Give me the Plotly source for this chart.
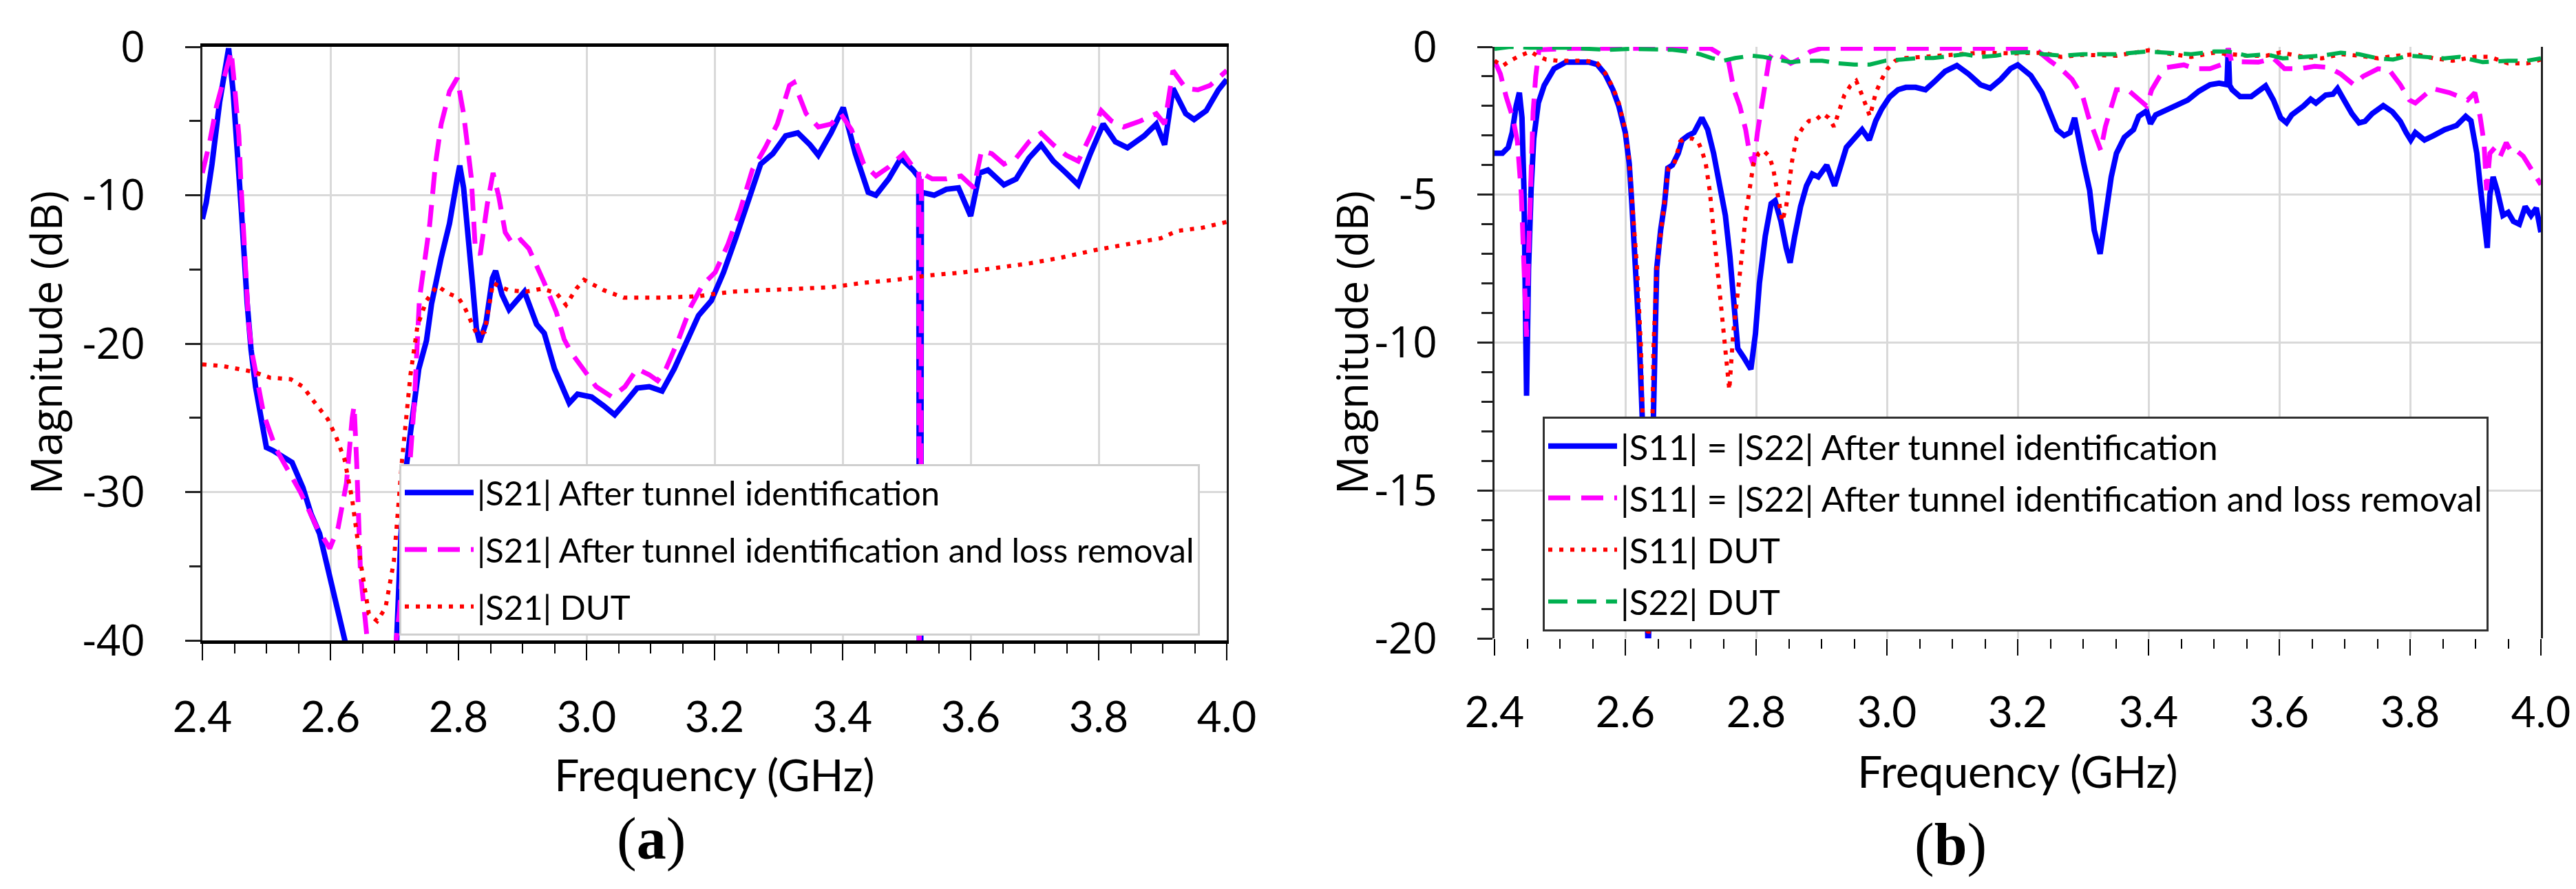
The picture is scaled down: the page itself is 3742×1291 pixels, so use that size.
import plotly.graph_objects as go

W, H = 3742, 1291

# ---------------- (a) |S21| ----------------
s21_tunnel_f = [2.400, 2.406, 2.415, 2.427, 2.436, 2.441, 2.448, 2.454, 2.461, 2.470, 2.476, 2.483,
                2.492, 2.500, 2.510, 2.520, 2.530, 2.540, 2.557, 2.570, 2.583, 2.602, 2.615, 2.628,
                2.650, 2.690, 2.703, 2.710, 2.718, 2.725, 2.738, 2.750, 2.758, 2.773, 2.786, 2.798,
                2.802, 2.808, 2.815, 2.822, 2.828, 2.833, 2.843, 2.853, 2.858, 2.868, 2.879, 2.892,
                2.903, 2.922, 2.934, 2.950, 2.973, 2.986, 3.008, 3.027, 3.044, 3.060, 3.079, 3.098,
                3.118, 3.137, 3.156, 3.175, 3.195, 3.214, 3.233, 3.253, 3.272, 3.291, 3.311, 3.330,
                3.349, 3.362, 3.382, 3.401, 3.420, 3.440, 3.452, 3.472, 3.491, 3.510, 3.519, 3.520,
                3.522, 3.523, 3.543, 3.562, 3.581, 3.600, 3.614, 3.627, 3.652, 3.671, 3.691, 3.710,
                3.729, 3.749, 3.768, 3.787, 3.807, 3.826, 3.845, 3.871, 3.890, 3.903, 3.916, 3.936,
                3.949, 3.968, 3.987, 4.000]
s21_tunnel_db = [-11.6, -10.5, -7.9, -3.7, -1.4, -0.1, -3.0, -6.5, -11.1, -17.3, -20.4, -22.9,
                 -25.0, -27.0, -27.2, -27.5, -27.8, -28.0, -29.7, -31.5, -32.8, -36.2, -38.2, -40.5,
                 -45.0, -45.0, -40.5, -33.0, -28.5, -26.0, -21.7, -19.8, -17.3, -14.2, -11.9, -8.9,
                 -8.0, -9.5, -12.5, -16.0, -19.0, -19.9, -18.6, -15.6, -15.1, -16.7, -17.7, -17.0,
                 -16.5, -18.7, -19.3, -21.7, -24.0, -23.4, -23.6, -24.2, -24.8, -24.0, -23.0, -22.9,
                 -23.2, -21.7, -19.8, -18.1, -17.1, -15.2, -12.9, -10.2, -7.9, -7.2, -6.0, -5.8,
                 -6.6, -7.3, -5.8, -4.1, -7.2, -9.8, -10.0, -8.9, -7.5, -8.3, -8.8, -45.0,
                 -45.0, -9.8, -10.0, -9.6, -9.5, -11.4, -8.5, -8.3, -9.3, -8.9, -7.5, -6.6,
                 -7.7, -8.5, -9.3, -7.2, -5.2, -6.4, -6.8, -6.0, -5.2, -6.6, -2.8, -4.5,
                 -4.9, -4.3, -2.9, -2.2]

s21_lossfree_f = [2.400, 2.411, 2.422, 2.438, 2.445, 2.450, 2.457, 2.460, 2.465, 2.472, 2.477, 2.485,
                  2.496, 2.515, 2.534, 2.553, 2.579, 2.599, 2.612, 2.625, 2.634, 2.637, 2.641, 2.647,
                  2.660, 2.680, 2.700, 2.708, 2.718, 2.731, 2.739, 2.755, 2.764, 2.773, 2.786, 2.798,
                  2.808, 2.820, 2.826, 2.834, 2.845, 2.854, 2.863, 2.873, 2.885, 2.897, 2.910, 2.922,
                  2.934, 2.953, 2.965, 2.976, 2.995, 3.015, 3.040, 3.060, 3.079, 3.098, 3.111, 3.124,
                  3.143, 3.163, 3.182, 3.201, 3.221, 3.240, 3.259, 3.279, 3.298, 3.317, 3.324, 3.343,
                  3.362, 3.382, 3.397, 3.414, 3.433, 3.452, 3.472, 3.495, 3.510, 3.519, 3.520, 3.522,
                  3.523, 3.540, 3.562, 3.585, 3.605, 3.617, 3.633, 3.652, 3.671, 3.691, 3.710, 3.729,
                  3.749, 3.768, 3.787, 3.804, 3.820, 3.839, 3.865, 3.890, 3.903, 3.916, 3.936, 3.955,
                  3.974, 4.000]
s21_lossfree_db = [-8.5, -6.5, -4.0, -1.2, -0.3, -2.5, -6.0, -9.0, -13.0, -18.5, -20.5, -22.5,
                   -24.8, -27.1, -28.6, -30.0, -32.4, -33.8, -32.4, -29.4, -25.0, -24.2, -28.0, -35.5,
                   -41.0, -45.0, -41.0, -38.0, -31.7, -24.0, -17.0, -12.0, -7.9, -5.2, -3.0, -2.1,
                   -4.5, -8.8, -13.4, -14.0, -10.6, -8.5, -10.1, -12.5, -13.3, -13.0, -13.6, -14.7,
                   -15.9, -17.9, -19.7, -20.6, -21.7, -22.9, -23.6, -22.9, -21.7, -22.1, -22.5, -21.7,
                   -19.8, -17.5, -16.0, -15.2, -13.3, -11.0, -8.3, -6.8, -5.2, -2.6, -2.4, -4.5,
                   -5.4, -5.2, -4.5, -5.6, -7.9, -8.7, -8.1, -7.2, -8.1, -8.3, -45.0, -45.0,
                   -8.5, -8.9, -8.9, -8.7, -9.5, -7.0, -7.2, -7.9, -7.5, -6.4, -5.8, -6.6,
                   -7.3, -7.7, -6.0, -4.3, -5.0, -5.4, -5.0, -4.5, -5.2, -1.6, -2.8, -2.9,
                   -2.6, -1.6]

s21_dut_f = [2.400, 2.430, 2.480, 2.506, 2.538, 2.557, 2.576, 2.596, 2.609, 2.622, 2.634, 2.647,
             2.660, 2.673, 2.686, 2.699, 2.712, 2.725, 2.736, 2.750, 2.767, 2.783, 2.800, 2.810,
             2.829, 2.841, 2.854, 2.866, 2.879, 2.905, 2.931, 2.953, 2.968, 2.984, 2.996, 3.010,
             3.027, 3.058, 3.085, 3.124, 3.175, 3.227, 3.279, 3.330, 3.382, 3.433, 3.484, 3.536,
             3.588, 3.639, 3.691, 3.742, 3.794, 3.845, 3.897, 3.923, 3.961, 4.000]
s21_dut_db = [-21.4, -21.5, -21.9, -22.3, -22.4, -22.9, -24.0, -25.1, -26.3, -27.8, -30.5, -34.7,
              -38.2, -38.7, -37.8, -34.7, -27.8, -22.1, -18.8, -17.1, -16.1, -16.6, -16.9, -17.6,
              -19.4, -19.2, -15.9, -16.2, -16.4, -16.5, -16.3, -16.6, -17.4, -16.3, -15.7, -16.0,
              -16.4, -16.9, -16.9, -16.9, -16.8, -16.5, -16.4, -16.3, -16.2, -15.9, -15.7, -15.4,
              -15.2, -14.9, -14.6, -14.2, -13.7, -13.3, -12.9, -12.4, -12.2, -11.8]

# ---------------- (b) |S11| = |S22| ----------------
s11_tunnel_f = [2.400, 2.412, 2.421, 2.427, 2.433, 2.438, 2.442, 2.445, 2.449, 2.452, 2.456, 2.460,
                2.467, 2.476, 2.491, 2.509, 2.527, 2.545, 2.557, 2.569, 2.581, 2.590, 2.600, 2.606,
                2.610, 2.615, 2.621, 2.626, 2.631, 2.635, 2.639, 2.642, 2.645, 2.648, 2.654, 2.660,
                2.665, 2.672, 2.681, 2.687, 2.696, 2.705, 2.717, 2.726, 2.735, 2.744, 2.753, 2.760,
                2.766, 2.772, 2.781, 2.792, 2.799, 2.805, 2.814, 2.823, 2.829, 2.838, 2.846, 2.852,
                2.859, 2.868, 2.877, 2.886, 2.895, 2.908, 2.920, 2.929, 2.938, 2.950, 2.962, 2.973,
                2.983, 2.992, 3.004, 3.017, 3.029, 3.044, 3.059, 3.074, 3.089, 3.107, 3.125, 3.143,
                3.158, 3.174, 3.189, 3.200, 3.220, 3.237, 3.249, 3.260, 3.271, 3.280, 3.287, 3.294,
                3.301, 3.310, 3.317, 3.326, 3.333, 3.343, 3.351, 3.363, 3.377, 3.385, 3.397, 3.403,
                3.411, 3.425, 3.443, 3.460, 3.477, 3.494, 3.508, 3.520, 3.522, 3.524, 3.528, 3.540,
                3.557, 3.571, 3.579, 3.591, 3.602, 3.611, 3.619, 3.637, 3.648, 3.656, 3.671, 3.682,
                3.689, 3.699, 3.711, 3.722, 3.731, 3.742, 3.759, 3.773, 3.785, 3.794, 3.801, 3.808,
                3.822, 3.836, 3.853, 3.871, 3.885, 3.893, 3.902, 3.907, 3.913, 3.918, 3.922, 3.927,
                3.933, 3.942, 3.950, 3.958, 3.967, 3.976, 3.985, 3.993, 4.000]
s11_tunnel_db = [-3.6, -3.6, -3.4, -2.9, -2.0, -1.55, -2.4, -4.8, -11.8, -7.5, -4.8, -3.1,
                 -1.9, -1.3, -0.74, -0.52, -0.52, -0.52, -0.6, -0.92, -1.45, -2.0, -2.9, -3.95,
                 -5.3, -7.1, -9.7, -12.6, -16.5, -20.5, -16.5, -12.6, -10.2, -7.5, -6.2, -5.3,
                 -4.1, -4.0, -3.6, -3.15, -3.0, -2.9, -2.4, -2.8, -3.6, -4.7, -5.7, -7.1,
                 -8.85, -10.2, -10.5, -10.9, -9.7, -8.0, -6.4, -5.3, -5.2, -5.9, -6.8, -7.3,
                 -6.4, -5.4, -4.7, -4.3, -4.4, -4.0, -4.7, -4.0, -3.4, -3.1, -2.8, -3.15,
                 -2.5, -2.1, -1.7, -1.45, -1.37, -1.37, -1.45, -1.15, -0.83, -0.63, -0.92, -1.28,
                 -1.4, -1.1, -0.74, -0.61, -0.97, -1.55, -2.17, -2.8, -3.0, -2.9, -2.4, -3.24,
                 -3.95, -4.85, -6.2, -7.0, -5.9, -4.4, -3.6, -3.06, -2.8, -2.35, -2.17, -2.6,
                 -2.3, -2.17, -1.99, -1.8, -1.5, -1.28, -1.23, -1.28, -0.05, -1.3, -1.45, -1.68,
                 -1.68, -1.45, -1.32, -1.8, -2.4, -2.57, -2.3, -2.0, -1.77, -1.9, -1.63, -1.6,
                 -1.41, -1.8, -2.26, -2.57, -2.52, -2.26, -1.99, -2.2, -2.52, -2.9, -3.15, -2.9,
                 -3.15, -3.0, -2.8, -2.66, -2.35, -2.5, -3.6, -4.66, -5.7, -6.8, -5.0, -4.4,
                 -4.85, -5.7, -5.6, -5.9, -6.0, -5.4, -5.7, -5.45, -6.27]

s11_lossfree_f = [2.400, 2.409, 2.418, 2.428, 2.435, 2.441, 2.446, 2.449, 2.452, 2.455, 2.459, 2.463,
                  2.468, 2.520, 2.600, 2.700, 2.730, 2.757, 2.766, 2.775, 2.784, 2.790, 2.796, 2.802,
                  2.808, 2.814, 2.820, 2.826, 2.840, 2.853, 2.868, 2.883, 2.900, 3.000, 3.100, 3.226,
                  3.249, 3.266, 3.283, 3.300, 3.308, 3.317, 3.327, 3.334, 3.343, 3.351, 3.368, 3.385,
                  3.397, 3.405, 3.417, 3.428, 3.454, 3.471, 3.494, 3.517, 3.522, 3.527, 3.545, 3.568,
                  3.591, 3.608, 3.631, 3.654, 3.676, 3.694, 3.714, 3.728, 3.751, 3.768, 3.785, 3.799,
                  3.808, 3.822, 3.834, 3.860, 3.888, 3.899, 3.907, 3.913, 3.917, 3.922, 3.930, 3.938,
                  3.947, 3.956, 3.965, 3.973, 3.981, 3.990, 4.000]
s11_lossfree_db = [-0.47, -0.92, -1.7, -2.4, -3.2, -5.0, -8.0, -9.8, -7.0, -4.5, -2.2, -1.0,
                   -0.1, -0.05, -0.05, -0.05, -0.05, -0.4, -1.45, -2.0, -2.8, -3.6, -4.0, -2.9,
                   -2.0, -1.1, -0.4, -0.2, -0.35, -0.56, -0.4, -0.16, -0.05, -0.05, -0.05, -0.05,
                   -0.47, -0.74, -1.1, -1.72, -2.35, -2.9, -3.5, -2.7, -2.0, -1.45, -1.45, -1.8,
                   -2.0, -1.45, -1.0, -0.7, -0.61, -0.74, -0.74, -0.56, -0.05, -0.5, -0.52, -0.52,
                   -0.39, -0.74, -0.74, -0.66, -0.7, -0.92, -1.28, -1.0, -0.74, -0.78, -1.28, -1.8,
                   -1.9, -1.63, -1.41, -1.55, -1.8, -1.55, -2.35, -3.24, -4.85, -3.6, -3.4, -3.7,
                   -3.24, -3.6, -3.55, -3.7, -3.95, -4.3, -4.66]

s11_dut_f = [2.400, 2.412, 2.424, 2.439, 2.455, 2.465, 2.479, 2.497, 2.515, 2.539, 2.557, 2.569,
             2.581, 2.590, 2.600, 2.606, 2.612, 2.618, 2.624, 2.630, 2.635, 2.640, 2.643, 2.648,
             2.654, 2.660, 2.666, 2.675, 2.684, 2.693, 2.702, 2.711, 2.717, 2.723, 2.729, 2.735,
             2.741, 2.747, 2.753, 2.759, 2.765, 2.772, 2.778, 2.784, 2.790, 2.796, 2.804, 2.811,
             2.820, 2.826, 2.832, 2.840, 2.846, 2.850, 2.855, 2.862, 2.871, 2.881, 2.890, 2.902,
             2.911, 2.919, 2.926, 2.935, 2.944, 2.953, 2.962, 2.968, 2.974, 2.983, 2.992, 3.001,
             3.013, 3.029, 3.059, 3.095, 3.143, 3.191, 3.240, 3.266, 3.300, 3.351, 3.400, 3.437,
             3.465, 3.500, 3.551, 3.580, 3.602, 3.637, 3.665, 3.694, 3.722, 3.751, 3.779, 3.808,
             3.836, 3.865, 3.899, 3.922, 3.950, 3.979, 4.000]
s11_dut_db = [-0.47, -0.65, -0.47, -0.3, -0.16, -0.3, -0.43, -0.47, -0.47, -0.47, -0.55, -0.88,
              -1.37, -1.9, -2.8, -3.86, -5.7, -7.5, -10.2, -15.0, -20.5, -15.0, -10.2, -7.5,
              -6.4, -5.4, -4.1, -3.95, -3.2, -3.1, -3.1, -3.2, -3.5, -3.95, -4.85, -6.2,
              -7.5, -8.85, -10.2, -11.6, -9.7, -8.4, -7.1, -5.7, -4.85, -3.95, -3.6, -3.5,
              -3.7, -4.1, -4.85, -5.9, -5.4, -4.7, -3.86, -3.06, -2.75, -2.5, -2.5, -2.26,
              -2.4, -2.7, -2.2, -1.63, -1.32, -1.15, -1.63, -2.0, -2.35, -1.55, -1.1, -0.74,
              -0.47, -0.38, -0.33, -0.25, -0.2, -0.22, -0.2, -0.34, -0.27, -0.3, -0.12, -0.25,
              -0.34, -0.2, -0.3, -0.3, -0.19, -0.34, -0.39, -0.25, -0.3, -0.39, -0.3, -0.25,
              -0.39, -0.47, -0.34, -0.34, -0.56, -0.56, -0.43]

s22_dut_f = [2.400, 2.424, 2.455, 2.485, 2.515, 2.545, 2.575, 2.606, 2.636, 2.672, 2.696, 2.714,
             2.732, 2.750, 2.768, 2.793, 2.811, 2.829, 2.853, 2.877, 2.901, 2.926, 2.950, 2.974,
             2.998, 3.022, 3.047, 3.071, 3.095, 3.119, 3.143, 3.167, 3.191, 3.215, 3.240, 3.266,
             3.300, 3.350, 3.397, 3.437, 3.465, 3.500, 3.522, 3.551, 3.580, 3.605, 3.637, 3.665,
             3.694, 3.722, 3.751, 3.774, 3.797, 3.825, 3.853, 3.876, 3.911, 3.950, 3.979, 4.000]
s22_dut_db = [-0.07, 0.0, -0.03, -0.03, -0.03, -0.07, -0.1, -0.07, -0.07, -0.1, -0.16, -0.25,
              -0.38, -0.47, -0.38, -0.3, -0.34, -0.43, -0.52, -0.47, -0.47, -0.56, -0.6, -0.6,
              -0.47, -0.43, -0.38, -0.38, -0.3, -0.25, -0.34, -0.3, -0.2, -0.18, -0.25, -0.3,
              -0.25, -0.25, -0.16, -0.2, -0.25, -0.16, -0.16, -0.3, -0.25, -0.39, -0.34, -0.3,
              -0.2, -0.25, -0.39, -0.43, -0.3, -0.34, -0.39, -0.34, -0.52, -0.47, -0.47, -0.39]

freq_ticks = [2.4, 2.6, 2.8, 3.0, 3.2, 3.4, 3.6, 3.8, 4.0]
s21_ticks = [0, -10, -20, -30, -40]
s11_ticks = [0, -5, -10, -15, -20]

BLUE, MAGENTA, RED, GREEN = "#0000ff", "#ff00ff", "#ff0000", "#00b050"
X_FONT = dict(family="Lato, Noto Sans, sans-serif", size=62, color="black")
Y_FONT = dict(family="Open Sans, Noto Sans, sans-serif", size=62, color="black")
SERIF = dict(family="Liberation Serif, DejaVu Serif, serif", size=86, color="black")
GRID = "#d9d9d9"

fig = go.Figure()

# left panel traces
fig.add_trace(go.Scatter(x=s21_tunnel_f, y=s21_tunnel_db, mode="lines", name="|S21| After tunnel identification",
                         line=dict(color=BLUE, width=8), xaxis="x", yaxis="y", legend="legend", legendgroup="a1"))
fig.add_trace(go.Scatter(x=s21_lossfree_f, y=s21_lossfree_db, mode="lines",
                         name="|S21| After tunnel identification and loss removal",
                         line=dict(color=MAGENTA, width=7, dash="32px,16px"), xaxis="x", yaxis="y",
                         legend="legend", legendgroup="a2"))
fig.add_trace(go.Scatter(x=s21_dut_f, y=s21_dut_db, mode="lines", name="|S21| DUT",
                         line=dict(color=RED, width=6, dash="6px,10px"), xaxis="x", yaxis="y",
                         legend="legend", legendgroup="a3"))

# right panel traces
fig.add_trace(go.Scatter(x=s11_tunnel_f, y=s11_tunnel_db, mode="lines",
                         name="|S11| = |S22| After tunnel identification",
                         line=dict(color=BLUE, width=8), xaxis="x2", yaxis="y2", legend="legend2", legendgroup="b1"))
fig.add_trace(go.Scatter(x=s11_lossfree_f, y=s11_lossfree_db, mode="lines",
                         name="|S11| = |S22| After tunnel identification and loss removal",
                         line=dict(color=MAGENTA, width=7, dash="32px,16px"), xaxis="x2", yaxis="y2",
                         legend="legend2", legendgroup="b2"))
fig.add_trace(go.Scatter(x=s11_dut_f, y=s11_dut_db, mode="lines", name="|S11| DUT",
                         line=dict(color=RED, width=6, dash="6px,10px"), xaxis="x2", yaxis="y2",
                         legend="legend2", legendgroup="b3"))
fig.add_trace(go.Scatter(x=s22_dut_f, y=s22_dut_db, mode="lines", name="|S22| DUT",
                         line=dict(color=GREEN, width=6, dash="28px,14px"), xaxis="x2", yaxis="y2",
                         legend="legend2", legendgroup="b4"))


def x_axis(domain, anchor, showline):
    return dict(domain=domain, anchor=anchor, range=[2.4, 4.0], tickvals=freq_ticks, tickformat=".1f",
                showgrid=True, gridcolor=GRID, gridwidth=3, zeroline=False,
                showline=showline, linecolor="black", linewidth=5, mirror=showline,
                ticks="outside", ticklen=24, tickwidth=2, tickcolor="black",
                minor=dict(dtick=0.05, ticks="outside", ticklen=14, tickwidth=2, tickcolor="black", showgrid=False),
                tickfont=X_FONT, ticklabelstandoff=30,
                title=dict(text="Frequency (GHz)",
                           font=dict(family="Lato, Noto Sans, sans-serif", size=64, color="black"),
                           standoff=30),
                automargin=False)


def y_axis(domain, anchor, ticks, minor_dtick):
    return dict(domain=domain, anchor=anchor, range=[ticks[-1], ticks[0]],
                tickvals=ticks, ticktext=[str(t) for t in ticks],
                showgrid=True, gridcolor=GRID, gridwidth=3, zeroline=False,
                showline=True, linecolor="#202020", linewidth=3, mirror=True,
                ticks="outside", ticklen=22, tickwidth=3, tickcolor="#202020",
                minor=dict(dtick=minor_dtick, ticks="outside", ticklen=16, tickwidth=3, tickcolor="#202020",
                           showgrid=False),
                tickfont=Y_FONT, ticklabelstandoff=46,
                automargin=False)


def sub_label(text, x, y, font, angle=0):
    return dict(text=text, x=x / W, y=1 - y / H, xref="paper", yref="paper", showarrow=False,
                xanchor="center", yanchor="middle", textangle=angle, font=font)


fig.update_layout(
    width=W, height=H,
    margin=dict(l=0, r=0, t=0, b=0),
    paper_bgcolor="white", plot_bgcolor="white",
    xaxis=x_axis([286 / W, 1774 / W], "y", True),
    yaxis=y_axis([1 - 922 / H, 1 - 60 / H], "x", s21_ticks, 5),
    xaxis2=x_axis([2163 / W, 3683 / W], "y2", False),
    yaxis2=y_axis([1 - 919 / H, 1 - 60 / H], "x2", s11_ticks, 1),
    legend=dict(x=572 / W, y=1 - 666 / H, xanchor="left", yanchor="top",
                font=dict(family="Lato, Noto Sans, sans-serif", size=49, color="black"),
                bgcolor="white", bordercolor="#cfcfcf", borderwidth=3, tracegroupgap=16, itemwidth=100),
    legend2=dict(x=2233 / W, y=1 - 597 / H, xanchor="left", yanchor="top",
                 font=dict(family="Lato, Noto Sans, sans-serif", size=51, color="black"),
                 bgcolor="white", bordercolor="#303030", borderwidth=3, tracegroupgap=6, itemwidth=100),
    annotations=[
        sub_label("Magnitude (dB)", 58, 490, Y_FONT, -90),
        sub_label("Magnitude (dB)", 1955, 490, Y_FONT, -90),
        sub_label("(<b>a</b>)", 938, 1210, SERIF),
        sub_label("(<b>b</b>)", 2825, 1218, SERIF),
    ],
)

fig.write_html("out.html")
